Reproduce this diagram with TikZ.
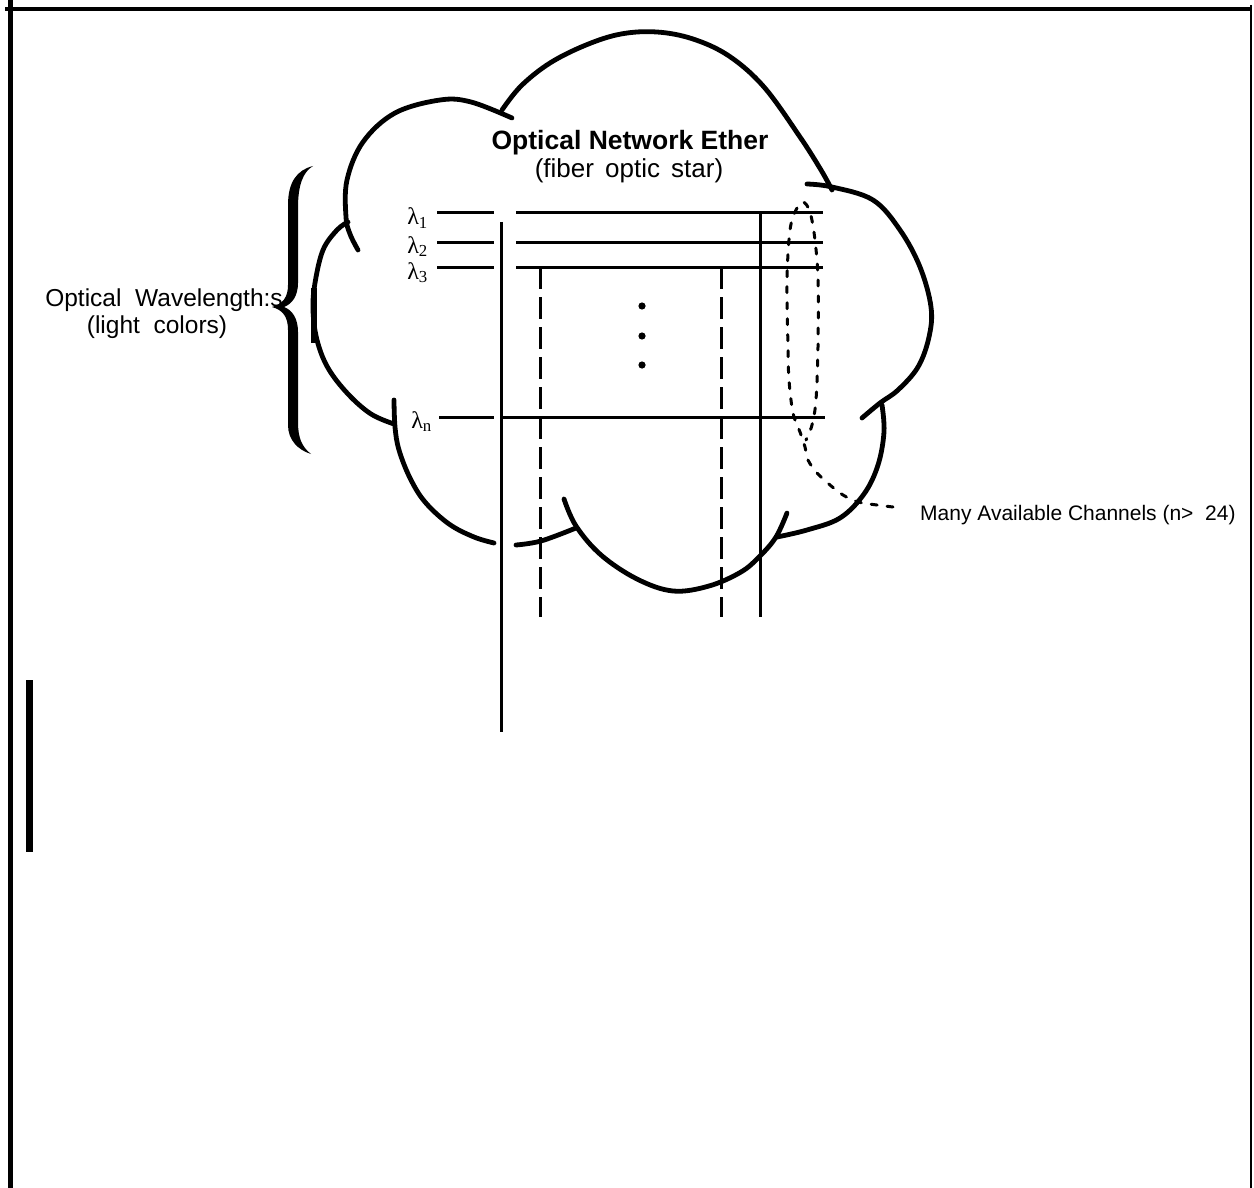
\documentclass[tikz,border=0pt]{standalone}
\usepackage{fontspec}
\setmainfont{Liberation Sans}
\newfontfamily\lamfont{Liberation Serif}
\begin{document}
\begin{tikzpicture}[x=1pt,y=-1pt,
  cloud/.style={line width=4.8pt, line cap=round, line join=round},
  wline/.style={line width=3pt},
  dashv/.style={line width=3pt, dash pattern=on 22pt off 8pt},
  dotloop/.style={line width=3pt, dash pattern=on 6pt off 10pt, line cap=round},
  lam/.style={font=\lamfont\fontsize{24}{28}\selectfont, inner sep=0pt, anchor=base east},
  txt/.style={inner sep=0pt, anchor=base}]
\useasboundingbox (0,0) rectangle (1254,1188);
% frame
\draw[line width=4pt] (5,9) -- (1252,9);
\draw[line width=5pt] (10.5,0) -- (10.5,1188);
\draw[line width=2.5pt] (1251,5) -- (1251,1188);
\draw[line width=7pt] (29.5,680) -- (29.5,852);
% cloud
\draw[cloud] plot[smooth, tension=0.6] coordinates {(502,110) (521,86) (550,63) (586,45) (621,34) (657,32) (693,39) (729,56) (764,87) (800,137) (821,170) (832,190)};
\draw[cloud] plot[smooth, tension=0.6] coordinates {(512,118) (471,102) (440,100) (395,113) (363,142) (347,180) (346,217) (350,234) (358,250)};
\draw[cloud] plot[smooth, tension=0.6] coordinates {(348,222) (337,230) (323,250) (315,283) (313,310) (317,340) (328,368) (348,394) (371,414) (394,424)};
\draw[line width=6pt] (314,288) -- (314,343);
\draw[cloud] plot[smooth, tension=0.6] coordinates {(394,400) (395,427) (399,450) (410,478) (425,502) (449,524) (474,537) (494,543)};
\draw[cloud] plot[smooth, tension=0.6] coordinates {(516,545) (541,541) (576,528)};
\draw[cloud] plot[smooth, tension=0.6] coordinates {(564,499) (576,526) (601,555) (637,579) (673,591) (709,586) (741,572) (760,556) (776,537) (787,513)};
\draw[cloud] plot[smooth, tension=0.6] coordinates {(777,537) (807,530) (840,518) (864,494) (878,465) (884,432) (882,405)};
\draw[cloud] plot[smooth, tension=0.6] coordinates {(807,184) (832,187) (873,200) (900,230) (920,267) (931,307) (929,337) (918,367) (898,390) (880,403) (862,418)};
% titles
\node[txt, font=\fontsize{26.5}{30}\selectfont\bfseries] (title) at (630,150) {Optical Network Ether};
\node[txt, font=\fontsize{26}{30}\selectfont] (sub) at (629,178) {(fiber\hspace{0.15em} optic\hspace{0.15em} star)};
% brace and its label
\fill (313,166) .. controls (297,170) and (288,182) .. (288,205) -- (288,285)
  .. controls (288,297) and (283,304) .. (272,307)
  .. controls (283,310) and (288,317) .. (288,330) -- (288,425)
  .. controls (288,440) and (298,450) .. (311,454)
  .. controls (302,447) and (298,438) .. (298,422) -- (298,332)
  .. controls (298,318) and (292,310) .. (284,307)
  .. controls (292,304) and (298,296) .. (298,283) -- (298,208)
  .. controls (298,185) and (303,172) .. (313,166) -- cycle;
\node[txt, font=\fontsize{24.5}{30}\selectfont] (wl) at (164,306) {Optical\ \ Wavelength:s};
\node[txt, font=\fontsize{24.5}{30}\selectfont] (lc) at (157,333) {(light\ \ colors)};
% wavelength labels
\node[lam] (l1) at (428,225) {λ\textsubscript{1}};
\node[lam] (l2) at (428,253) {λ\textsubscript{2}};
\node[lam] (l3) at (428,279) {λ\textsubscript{3}};
\node[lam] (ln) at (432,428) {λ\textsubscript{n}};
% wavelength lines
\coordinate (a1) at (437,213); \coordinate (b1) at (494,213);
\coordinate (c1) at (516,213); \coordinate (d1) at (823,213);
\coordinate (a2) at (437,242); \coordinate (b2) at (494,242);
\coordinate (c2) at (516,242); \coordinate (d2) at (823,242);
\coordinate (a3) at (437,267); \coordinate (b3) at (494,267);
\coordinate (c3) at (516,267); \coordinate (d3) at (823,267);
\coordinate (an) at (439,417); \coordinate (bn) at (494,417);
\coordinate (cn) at (501,417); \coordinate (dn) at (825,417);
\foreach \i in {1,2,3,n} {
  \draw[wline] (a\i) -- (b\i);
  \draw[wline] (c\i) -- (d\i);
}
% fibers
\coordinate (v0t) at (501,222); \coordinate (v0b) at (501,732);
\draw[wline] (v0t) -- (v0b);
\coordinate (v1t) at (540,267); \coordinate (v1b) at (540,617);
\draw[dashv] (v1t) -- (v1b);
\coordinate (v2t) at (721,267); \coordinate (v2b) at (721,617);
\draw[dashv] (v2t) -- (v2b);
\coordinate (v3t) at (760,213); \coordinate (v3b) at (760,617);
\draw[wline] (v3t) -- (v3b);
% dots
\fill (642,306) circle[radius=3.6pt];
\fill (642,336) circle[radius=3.6pt];
\fill (642,365) circle[radius=3.6pt];
% dotted loop and channels label
\node[inner sep=0pt, anchor=base west, font=\fontsize{21}{25}\selectfont] (ch) at (920,520) {Many Available Channels (n>\ \ 24)};
\coordinate (tailend) at (893,507);
\draw[dotloop] plot[smooth, tension=0.55] coordinates {(tailend) (877,505) (858,502) (843,495) (830,485) (817,473) (808,460) (805,447) (800,432) (793,413) (789,380) (788,347) (787,280) (790,230) (796,210) (803,202) (810,212) (815,240) (818,280) (818,347) (816,400) (812,425) (806,440)};
\end{tikzpicture}
\end{document}
